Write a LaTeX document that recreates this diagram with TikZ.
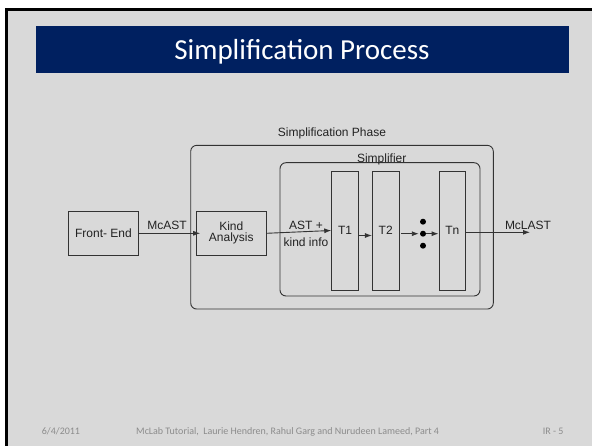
\documentclass[tikz,border=0pt]{standalone}
\usepackage{fontspec}
\setmainfont{Liberation Sans}
\newfontfamily\calibri{Carlito}
\usetikzlibrary{arrows.meta}
\definecolor{slidegray}{HTML}{D9D9D9}
\definecolor{navy}{HTML}{002060}
\definecolor{ln}{HTML}{333333}
\definecolor{txt}{HTML}{222222}
\definecolor{foot}{HTML}{8C8C8C}
\tikzset{
  box/.style={draw=ln, line width=0.9pt, inner sep=0pt, text=txt,
    font=\fontsize{12}{11}\selectfont, align=center},
  tbox/.style={box, minimum width=26.6pt, minimum height=119pt},
  group/.style={draw=ln, line width=0.9pt, rounded corners=6pt, inner sep=0pt},
  arr/.style={draw=ln, line width=0.9pt, -{Latex[length=7pt,width=5pt]}},
  lbl/.style={inner sep=0pt, text=txt, font=\fontsize{12}{11}\selectfont},
  dotn/.style={circle, fill=black, inner sep=0pt, minimum size=6pt},
  footn/.style={inner sep=0pt, anchor=base west, text=foot, font=\calibri\fontsize{10}{11}\selectfont}
}
\begin{document}
\begin{tikzpicture}[x=1pt,y=-1pt]
\useasboundingbox (0,0) rectangle (592,446);
\fill[white] (0,0) rectangle (592,446);
\fill[slidegray] (8,11) rectangle (592,446);
\fill[black] (5,8) rectangle (8,446);
\fill[black] (5,8) rectangle (592,11);
\fill[navy] (36,26) rectangle (568.7,72.7);
\node[anchor=base, inner sep=0pt, text=white, font=\calibri\fontsize{29}{30}\selectfont] (title) at (302,59.3) {Simplification Process};

% groups
\node[group, minimum width=302.6pt, minimum height=163.7pt] (phase) at (342,227.2) {};
\node[group, minimum width=200pt, minimum height=133.3pt] (simp) at (380,229.35) {};
\node[lbl, anchor=base] (phaselbl) at (332,137) {Simplification Phase};
\node[lbl, anchor=base] (simplbl) at (381.7,163) {Simplifier};

% boxes
\node[box, minimum width=70.4pt, minimum height=44pt] (fe) at (103.5,233.3) {Front- End};
\node[box, minimum width=69.3pt, minimum height=44pt] (ka) at (231.3,233.3) {Kind\\Analysis};
\node[tbox] (t1) at (345,230.5) {T1};
\node[tbox] (t2) at (385.7,230.5) {T2};
\node[tbox] (tn) at (452.3,230.5) {Tn};
\node[dotn] (d1) at (423,221.7) {};
\node[dotn] (d2) at (423,233.7) {};
\node[dotn] (d3) at (423,245.7) {};
\coordinate (out) at (530,232.3);

% labels
\node[lbl] (l1) at (167,225.7) {McAST};
\node[lbl] (l2) at (306,225.2) {AST +};
\node[lbl] (l3) at (306,242.5) {kind info};
\node[lbl] (l4) at (528,225.7) {McLAST};

% arrows
\draw[arr] (fe.east) -- ([xshift=4pt]ka.west);
\draw[arr] (ka.east) -- (t1.west);
\draw[arr] ([yshift=-5pt]t1.east) -- ([yshift=-5pt]t2.west);
\draw[arr, shorten >=1pt] ([xshift=2pt]t2.east |- d2.west) -- (d2.west);
\draw[arr] (d2.east) -- (tn.west |- d2);
\draw[arr] (tn.east |- out) -- (out);

% footer
\node[footn] (date) at (41.7,434) {6/4/2011};
\node[footn] (auth) at (136,434) {McLab Tutorial,\ \ Laurie Hendren, Rahul Garg and Nurudeen Lameed, Part 4};
\node[footn] (pg) at (542.7,434) {IR - 5};
\end{tikzpicture}
\end{document}
